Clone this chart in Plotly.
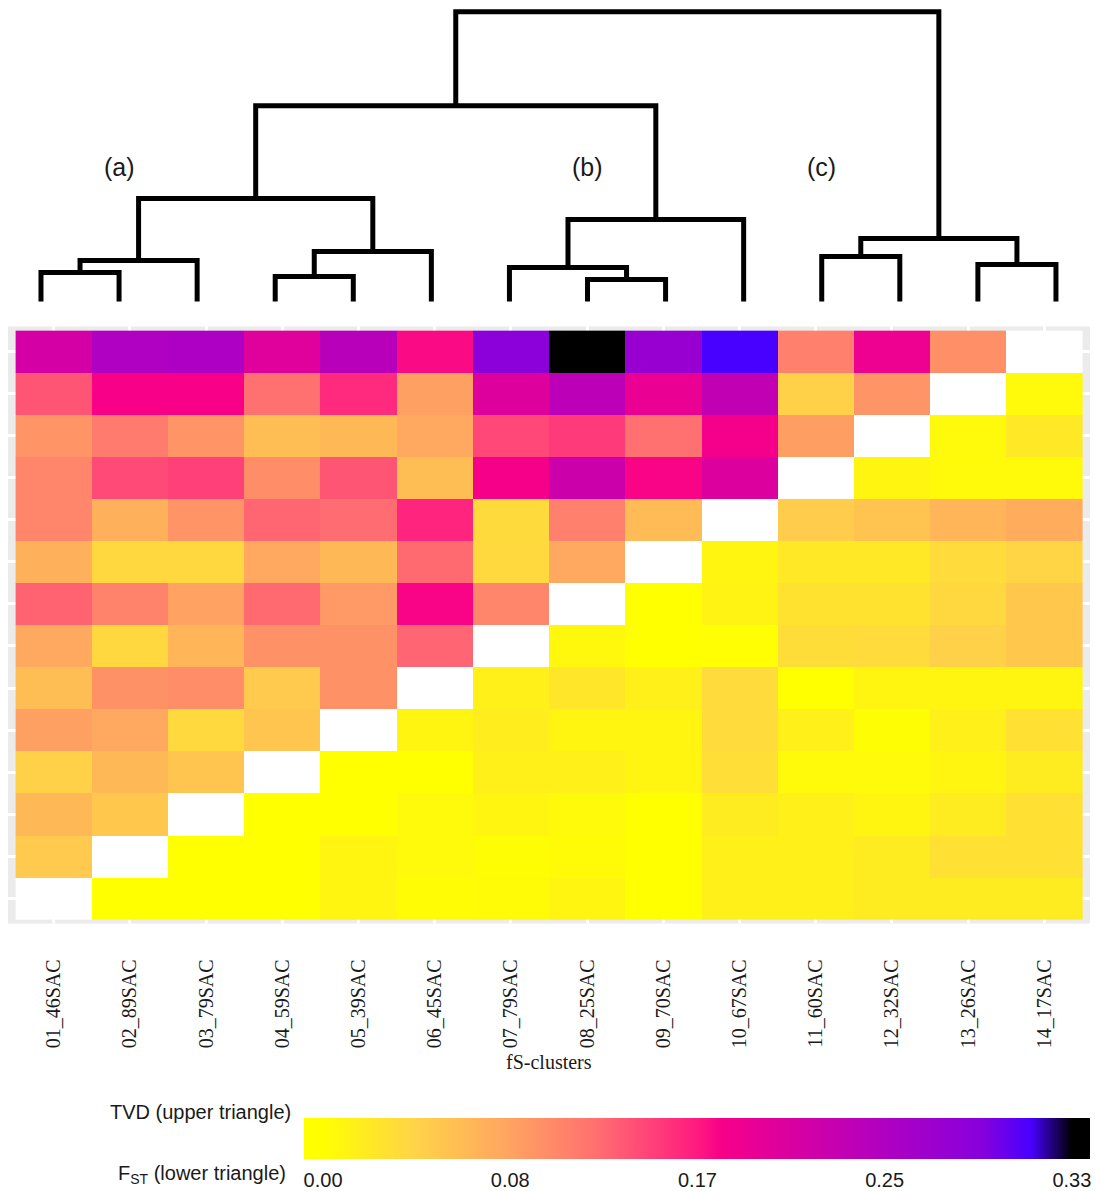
import plotly.graph_objects as go

W, H = 1095, 1191

clusters = ["01_46SAC", "02_89SAC", "03_79SAC", "04_59SAC", "05_39SAC", "06_45SAC", "07_79SAC",
            "08_25SAC", "09_70SAC", "10_67SAC", "11_60SAC", "12_32SAC", "13_26SAC", "14_17SAC"]

# TVD (upper triangle): row k -> cluster k+2 on y, against clusters 1..k+1 on x
tvd_upper = [
    [0.049],
    [0.064, 0.050],
    [0.043, 0.064, 0.053],
    [0.085, 0.078, 0.035, 0.053],
    [0.059, 0.096, 0.099, 0.049, 0.096],
    [0.078, 0.036, 0.067, 0.096, 0.096, 0.126],
    [0.127, 0.107, 0.083, 0.123, 0.090, 0.174, 0.104],
    [0.071, 0.036, 0.036, 0.078, 0.064, 0.123, 0.035, 0.078],
    [0.104, 0.071, 0.093, 0.125, 0.122, 0.160, 0.034, 0.108, 0.062],
    [0.104, 0.140, 0.145, 0.098, 0.134, 0.059, 0.176, 0.219, 0.174, 0.203],
    [0.093, 0.112, 0.093, 0.059, 0.064, 0.078, 0.141, 0.148, 0.120, 0.179, 0.086],
    [0.134, 0.175, 0.175, 0.120, 0.157, 0.085, 0.201, 0.235, 0.189, 0.229, 0.043, 0.093],
    [0.211, 0.247, 0.250, 0.199, 0.239, 0.171, 0.286, 0.335, 0.273, 0.312, 0.108, 0.185, 0.097],
]

# FST (lower triangle): row k -> cluster k+1 on y, against clusters k+2..14 on x
fst_lower = [
    [0.000, 0.000, 0.000, 0.009, 0.003, 0.004, 0.009, 0.000, 0.014, 0.014, 0.018, 0.018, 0.018],
    [0.000, 0.000, 0.009, 0.006, 0.002, 0.004, 0.000, 0.014, 0.014, 0.018, 0.029, 0.029],
    [0.000, 0.000, 0.006, 0.009, 0.005, 0.000, 0.018, 0.014, 0.009, 0.018, 0.029],
    [0.000, 0.000, 0.014, 0.014, 0.009, 0.031, 0.005, 0.005, 0.009, 0.018],
    [0.009, 0.017, 0.009, 0.009, 0.033, 0.014, 0.002, 0.014, 0.029],
    [0.014, 0.023, 0.014, 0.033, 0.000, 0.009, 0.009, 0.009],
    [0.0065, 0.000, 0.001, 0.032, 0.033, 0.043, 0.050],
    [0.000, 0.011, 0.027, 0.027, 0.036, 0.050],
    [0.009, 0.021, 0.021, 0.033, 0.039],
    [0.047, 0.054, 0.067, 0.074],
    [0.009, 0.005, 0.005],
    [0.006, 0.021],
    [0.006],
]

# Dendrogram merges (leaves 0..13, new nodes numbered from 14)
merge_left = [0, 14, 3, 16, 15, 7, 6, 20, 18, 10, 12, 23, 22]
merge_right = [1, 2, 4, 5, 17, 8, 19, 9, 21, 11, 13, 24, 25]
merge_height = [0.029, 0.041, 0.025, 0.050, 0.103, 0.022, 0.034, 0.082, 0.196, 0.045, 0.037, 0.063, 0.290]

group_labels = ["(a)", "(b)", "(c)"]

cbar_tickvals = [0.0, 0.0825, 0.165, 0.2475, 0.33]
cbar_ticktext = ["0.00", "0.08", "0.17", "0.25", "0.33"]
zmin, zmax = -0.0084, 0.338

scale_vals = [-0.0084, 0.0, 0.04, 0.0825, 0.12, 0.165, 0.175, 0.2475, 0.29, 0.312, 0.33, 0.338]
scale_cols = ["#FFFF00", "#FFFF00", "#FFD447", "#FFA362", "#FF7070", "#FF1A80", "#F80088",
              "#B000C2", "#8800DC", "#4800FF", "#000000", "#000000"]
colorscale = [[(v - zmin) / (zmax - zmin), c] for v, c in zip(scale_vals, scale_cols)]
colorscale[0][0] = 0.0
colorscale[-1][0] = 1.0

n = len(clusters)
z = [[None] * n for _ in range(n)]
for k, row in enumerate(tvd_upper):
    yi = k + 1
    for j, v in enumerate(row):
        z[yi][j] = v
for k, row in enumerate(fst_lower):
    yi = k
    for j, v in enumerate(row):
        z[yi][yi + 1 + j] = v
diag = [[1 if i == j else None for j in range(n)] for i in range(n)]
pos = list(range(1, n + 1))

# colorbar geometry (pixels)
CB_X0, CB_LEN, CB_TOP, CB_THICK = 304, 786, 1120, 41

fig = go.Figure()
fig.add_trace(go.Heatmap(
    x=pos, y=pos, z=z, zmin=zmin, zmax=zmax, colorscale=colorscale,
    xaxis="x", yaxis="y", hoverongaps=False,
    colorbar=dict(orientation="h", lenmode="pixels", len=CB_LEN, thicknessmode="pixels",
                  thickness=CB_THICK,
                  x=(CB_X0 + CB_LEN / 2) / W, xanchor="center", y=1 - CB_TOP / H, yanchor="top",
                  xpad=0, ypad=0, outlinewidth=0,
                  tickvals=cbar_tickvals, ticktext=cbar_ticktext,
                  ticks="outside", ticklen=4, tickcolor="rgba(0,0,0,0)",
                  tickfont=dict(family="Liberation Sans", size=20, color="#1a1a1a")),
))
fig.add_trace(go.Heatmap(
    x=pos, y=pos, z=diag, colorscale=[[0, "white"], [1, "white"]], showscale=False,
    xaxis="x", yaxis="y", hoverinfo="skip",
))

# dendrogram
node_x = [float(i + 1) for i in range(n)]
node_y = [0.0] * n
xs, ys = [], []
for l, r, h in zip(merge_left, merge_right, merge_height):
    xs += [node_x[l], node_x[l], node_x[r], node_x[r], None]
    ys += [node_y[l], h, h, node_y[r], None]
    node_x.append((node_x[l] + node_x[r]) / 2)
    node_y.append(h)
fig.add_trace(go.Scatter(x=xs, y=ys, mode="lines", line=dict(color="black", width=5),
                         xaxis="x2", yaxis="y2", hoverinfo="skip", showlegend=False))

annotations = []
for lab, gx in zip(group_labels, [2, 8, 11]):
    annotations.append(dict(text=lab, x=gx, y=0.135, xref="x2", yref="y2", showarrow=False,
                            font=dict(family="Liberation Sans", size=25, color="#1a1a1a")))
annotations.append(dict(text="fS-clusters", x=0.5, xref="x domain", y=1 - 1064 / H, yref="paper",
                        showarrow=False, yanchor="middle",
                        font=dict(family="Liberation Serif", size=20, color="#1a1a1a")))
annotations.append(dict(text="TVD (upper triangle)", x=293 / W, xanchor="right", xref="paper",
                        y=1 - 1114 / H, yanchor="middle", yref="paper", showarrow=False,
                        font=dict(family="Liberation Sans", size=20, color="#1a1a1a")))
annotations.append(dict(text="F<sub>ST</sub> (lower triangle)", x=288 / W, xanchor="right", xref="paper",
                        y=1 - 1176 / H, yanchor="middle", yref="paper", showarrow=False,
                        font=dict(family="Liberation Sans", size=20, color="#1a1a1a")))

# white tick marks drawn inside the colour bar (top and bottom edges)
shapes = [dict(type="rect", xref="x domain", yref="y domain", x0=0, x1=1, y0=0, y1=1,
               fillcolor="#EBEBEB", line=dict(width=0), layer="below")]
for tv in cbar_tickvals:
    px = CB_X0 + (tv - zmin) / (zmax - zmin) * CB_LEN
    for ya, yb in [(CB_TOP, CB_TOP + 7), (CB_TOP + CB_THICK - 7, CB_TOP + CB_THICK)]:
        shapes.append(dict(type="line", xref="paper", yref="paper", x0=px / W, x1=px / W,
                           y0=1 - ya / H, y1=1 - yb / H, line=dict(color="white", width=1.5),
                           layer="above"))

fig.update_layout(
    width=W, height=H, margin=dict(l=0, r=0, t=0, b=0),
    paper_bgcolor="white", plot_bgcolor="white", showlegend=False,
    xaxis=dict(domain=[8 / W, 1090 / W], range=[0.4, 14.6], tickvals=pos, ticktext=clusters,
               tickangle=-90, ticks="", ticklabelstandoff=31,
               tickfont=dict(family="Liberation Serif", size=20, color="#1a1a1a"),
               showgrid=True, gridcolor="white", gridwidth=2.5, zeroline=False, showline=False,
               anchor="y"),
    yaxis=dict(domain=[1 - 925 / H, 1 - 327 / H], range=[0.4, 14.6], tickvals=pos,
               showticklabels=False, ticks="", showgrid=True, gridcolor="white", gridwidth=2.5,
               zeroline=False, showline=False, anchor="x"),
    xaxis2=dict(domain=[0, 1], range=[0.475, 14.5], visible=False, anchor="y2"),
    yaxis2=dict(domain=[1 - 310 / H, 1 - 2 / H], range=[-0.008, 0.2997], visible=False, anchor="x2"),
    shapes=shapes,
    annotations=annotations,
)

fig.write_html("out.html")
